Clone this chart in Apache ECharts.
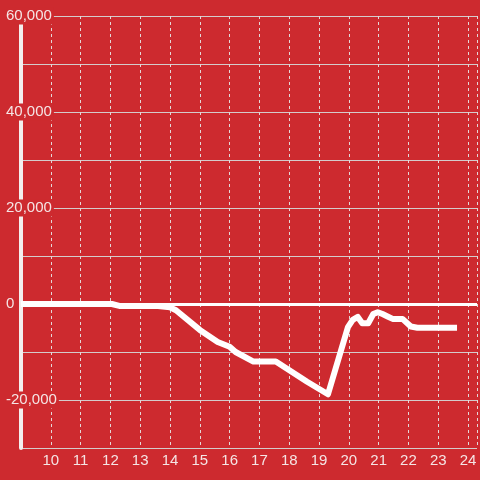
<!DOCTYPE html>
<html>
<head>
<meta charset="utf-8">
<script src="https://cdn.jsdelivr.net/npm/echarts@6/dist/echarts.min.js"></script>
<style>
  html, body { margin: 0; padding: 0; background: #cd2a2f; }
  #chart { width: 480px; height: 480px; }
</style>
</head>
<body>
<div id="chart"></div>
<script>
// hour of day / value pairs
const hours = [9, 12.05, 12.3, 13.6, 14.0, 14.2, 15.0, 15.6, 16.0, 16.2, 16.8, 17.55, 18.6, 19.3, 19.97, 20.13, 20.3, 20.45, 20.65, 20.82, 20.97, 21.13, 21.3, 21.47, 21.8, 22.08, 22.3, 23.63];
const values = [0, 0, -400, -400, -700, -1300, -5400, -7900, -8900, -10000, -12000, -12000, -16200, -18800, -4800, -3300, -2700, -4000, -4000, -2100, -1700, -2100, -2600, -3100, -3100, -4700, -4950, -4950];
const xTicks = [10, 11, 12, 13, 14, 15, 16, 17, 18, 19, 20, 21, 22, 23, 24];
const yLabels = [-20000, 0, 20000, 40000, 60000];

const bg = '#cd2a2f';
const textColor = '#f5e5e5';

const myChart = echarts.init(document.getElementById('chart'));
const option = {
    backgroundColor: bg,
    animation: false,
    grid: {
        left: 21,
        right: 0,
        top: 16,
        bottom: 32,
        containLabel: false
    },
    xAxis: {
        type: 'value',
        min: 9,
        max: 24.3,
        interval: 1,
        axisLine: { show: false },
        axisTick: { show: false },
        axisLabel: {
            color: textColor,
            fontSize: 15,
            fontFamily: 'Liberation Sans',
            margin: 5,
            formatter: v => xTicks.indexOf(v) >= 0 ? String(v) : ''
        },
        splitLine: {
            show: true,
            lineStyle: { color: '#e4d8d8', width: 1, type: [3, 3] }
        }
    },
    yAxis: {
        type: 'value',
        min: -30000,
        max: 60000,
        interval: 10000,
        axisLine: { show: true, onZero: false, lineStyle: { color: '#f4eeee', width: 4 } },
        axisTick: { show: false },
        axisLabel: {
            align: 'left',
            margin: 15,
            formatter: v => yLabels.indexOf(v) >= 0 ? '{a|' + v.toLocaleString('en-US') + '}' : '',
            rich: {
                a: {
                    color: textColor,
                    fontSize: 15,
                    fontFamily: 'Liberation Sans',
                    backgroundColor: bg,
                    padding: [1, 2, 1, 0]
                }
            }
        },
        splitLine: {
            show: true,
            lineStyle: { color: '#d4cccc', width: 1 }
        }
    },
    series: [{
        type: 'line',
        data: hours.map((h, i) => [h, values[i]]),
        showSymbol: false,
        lineStyle: { color: '#ffffff', width: 6, join: 'round' },
        markLine: {
            silent: true,
            symbol: 'none',
            label: { show: false },
            lineStyle: { color: '#ffffff', width: 3, type: 'solid' },
            data: [{ yAxis: 0 }]
        }
    }]
};
myChart.setOption(option);
</script>
</body>
</html>
